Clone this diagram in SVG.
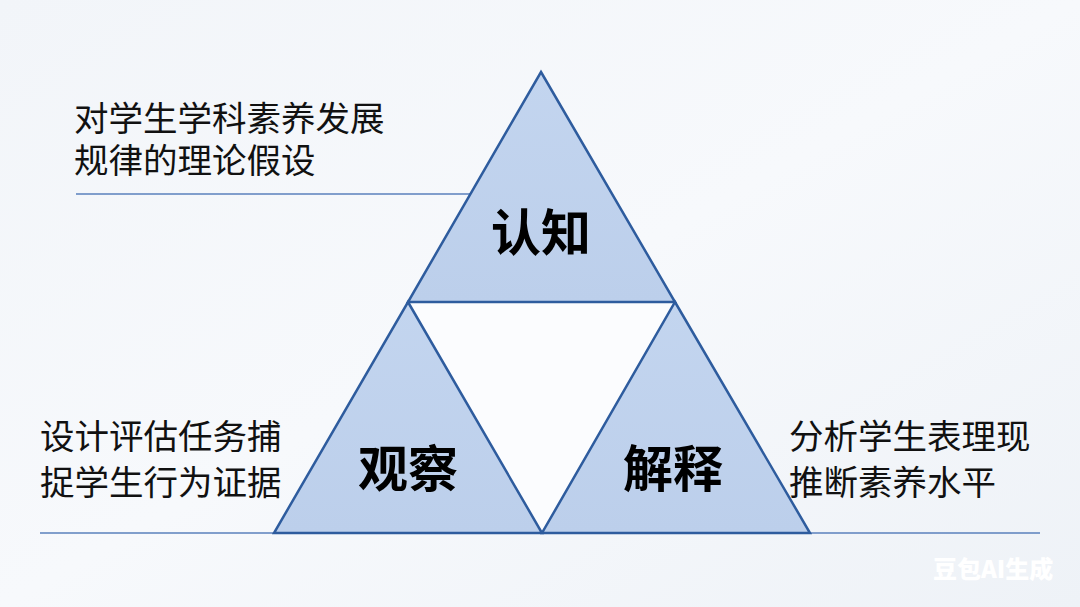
<svg xmlns="http://www.w3.org/2000/svg" width="1080" height="607" viewBox="0 0 1080 607">
<defs>
<linearGradient id="bg" x1="0" y1="0" x2="1" y2="1">
<stop offset="0" stop-color="#f2f5f9"/>
<stop offset="0.5" stop-color="#f7f9fc"/>
<stop offset="1" stop-color="#eef2f7"/>
</linearGradient>
<linearGradient id="tri" x1="0" y1="0" x2="0" y2="1">
<stop offset="0" stop-color="#c3d5ef"/>
<stop offset="1" stop-color="#bccfeb"/>
</linearGradient>
<style>
.tri{fill:url(#tri);stroke:#2e5c9e;stroke-width:2.5;stroke-linejoin:miter}
.rule{stroke:#5a80bd;stroke-width:1.5;fill:none}
.lbl{font-family:"Noto Sans CJK SC","Noto Sans",sans-serif;font-weight:700;font-size:50px;fill:#000;text-anchor:middle}
.desc{font-family:"Noto Sans CJK SC","Noto Sans",sans-serif;font-size:34.5px;fill:#111}
.wm{font-family:"Noto Sans CJK SC","Noto Sans",sans-serif;font-weight:900;font-size:24px;fill:#ffffff}
</style>
</defs>
<rect width="1080" height="607" fill="url(#bg)"/>
<g id="connectors">
<line class="rule" x1="76" y1="194" x2="476" y2="194"/>
<line class="rule" x1="40" y1="533" x2="1040" y2="533"/>
</g>
<polygon points="408,302 675,302 541,533" fill="#fbfcfe"/>
<g id="node-renzhi">
<polygon class="tri" points="541,72 675,302 408,302"/>
<text class="lbl" x="541" y="251">认知</text>
</g>
<g id="node-guancha">
<polygon class="tri" points="408,302 542,533 274,533"/>
<text class="lbl" x="408" y="487">观察</text>
</g>
<g id="node-jieshi">
<polygon class="tri" points="675,302 810,533 542,533"/>
<text class="lbl" x="673" y="487">解释</text>
</g>
<g id="desc-top">
<text class="desc" x="74" y="131">对学生学科素养发展</text>
<text class="desc" x="74" y="173">规律的理论假设</text>
</g>
<g id="desc-left">
<text class="desc" x="40" y="449">设计评估任务捕</text>
<text class="desc" x="40" y="495">捉学生行为证据</text>
</g>
<g id="desc-right">
<text class="desc" x="789" y="449">分析学生表理现</text>
<text class="desc" x="789" y="495">推断素养水平</text>
</g>
<text class="wm" x="933" y="578">豆包AI生成</text>
</svg>
